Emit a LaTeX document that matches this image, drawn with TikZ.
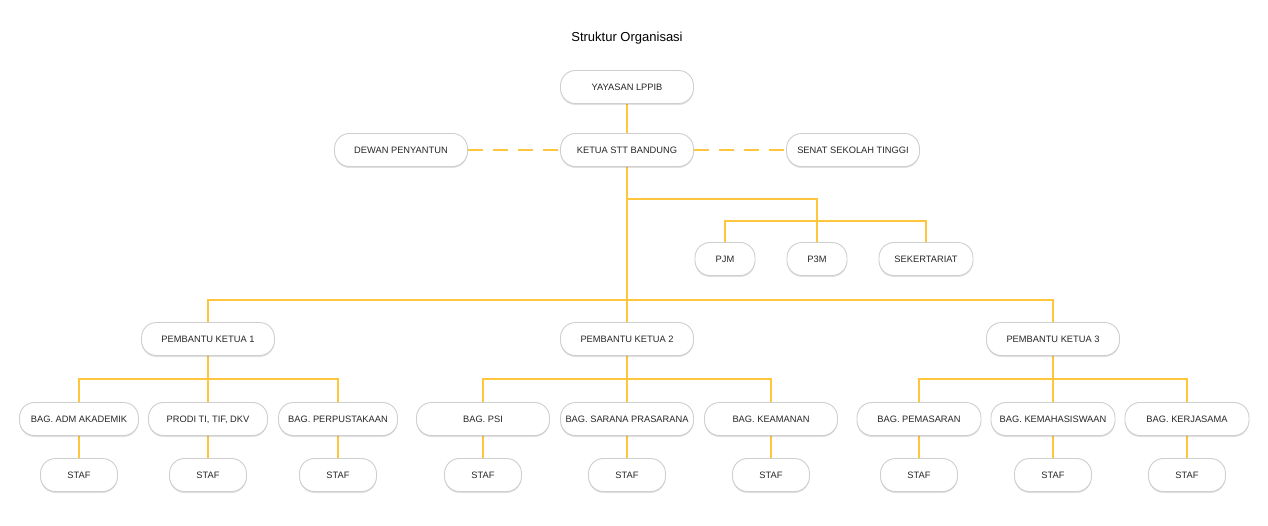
\documentclass[tikz,border=0pt]{standalone}
\usepackage{fontspec}
\setmainfont{Liberation Sans}
\usetikzlibrary{backgrounds,shadows}
\definecolor{lineyel}{HTML}{FFC53D}
\definecolor{boxline}{HTML}{CFCFCF}
\definecolor{txt}{HTML}{262626}
\tikzset{
  orgbox/.style={draw=boxline, line width=0.9pt, fill=white, rounded corners=15pt,
    minimum height=33pt, inner sep=0pt, text=txt, font=\fontsize{9.3}{11}\selectfont,
    text height=6.7pt, text depth=0pt,
    drop shadow={shadow xshift=0pt, shadow yshift=-1.5pt, opacity=0.12, fill=black}},
  wbig/.style={orgbox, minimum width=133pt},
  wmid/.style={orgbox, minimum width=119pt},
  wgr3/.style={orgbox, minimum width=124pt},
  wstaf/.style={orgbox, minimum width=77pt},
  conn/.style={draw=lineyel, line width=2.8pt},
  dconn/.style={conn, dash pattern=on 15pt off 10pt},
}
\begin{document}
\begin{tikzpicture}[x=1pt,y=-1pt]
\useasboundingbox (0,0) rectangle (1268,526);
\node[text=black, font=\fontsize{13}{15}\selectfont] (title) at (627,38) {Struktur Organisasi};
% top
\node[wbig] (yay) at (627,87) {YAYASAN LPPIB};
\node[wbig] (ket) at (627,150) {KETUA STT BANDUNG};
\node[wbig] (dew) at (401,150) {DEWAN PENYANTUN};
\node[wbig] (sen) at (853,150) {SENAT SEKOLAH TINGGI};
% staff units
\node[orgbox, minimum width=60pt] (pjm) at (725,259) {PJM};
\node[orgbox, minimum width=60pt] (p3m) at (817,259) {P3M};
\node[orgbox, minimum width=94pt] (sek) at (926,259) {SEKERTARIAT};
% pembantu
\node[wbig] (pk1) at (208,339) {PEMBANTU KETUA 1};
\node[wbig] (pk2) at (627,339) {PEMBANTU KETUA 2};
\node[wbig] (pk3) at (1053,339) {PEMBANTU KETUA 3};
% row 3
\node[wmid] (adm) at (79,419) {BAG. ADM AKADEMIK};
\node[wmid] (pro) at (208,419) {PRODI TI, TIF, DKV};
\node[wmid] (per) at (338,419) {BAG. PERPUSTAKAAN};
\node[wbig] (psi) at (483,419) {BAG. PSI};
\node[wbig] (sar) at (627,419) {BAG. SARANA PRASARANA};
\node[wbig] (kea) at (771,419) {BAG. KEAMANAN};
\node[wgr3] (pem) at (919,419) {BAG. PEMASARAN};
\node[wgr3] (kem) at (1053,419) {BAG. KEMAHASISWAAN};
\node[wgr3] (ker) at (1187,419) {BAG. KERJASAMA};
% staf
\node[wstaf] (s1) at (79,475) {STAF};
\node[wstaf] (s2) at (208,475) {STAF};
\node[wstaf] (s3) at (338,475) {STAF};
\node[wstaf] (s4) at (483,475) {STAF};
\node[wstaf] (s5) at (627,475) {STAF};
\node[wstaf] (s6) at (771,475) {STAF};
\node[wstaf] (s7) at (919,475) {STAF};
\node[wstaf] (s8) at (1053,475) {STAF};
\node[wstaf] (s9) at (1187,475) {STAF};
% junctions
\coordinate (j0) at (627,199);
\coordinate (j1) at (817,221);
\coordinate (j2) at (627,300);
\coordinate (ja) at (208,379);
\coordinate (jb) at (627,379);
\coordinate (jc) at (1053,379);
\begin{scope}[on background layer]
\fill[white] (0,0) rectangle (1268,526);
\draw[conn] (yay) -- (ket);
\draw[dconn] (dew.east) -- (ket.west);
\draw[dconn] (ket.east) -- (sen.west);
\draw[conn] (ket.south) -- (pk2.north);
\draw[conn] (j0) -| (p3m.north);
\draw[conn] (pjm.north) |- (j1) -| (sek.north);
\draw[conn] (pk1.north) |- (j2) -| (pk3.north);
\draw[conn] (pk1.south) -- (pro.north);
\draw[conn] (adm.north) |- (ja) -| (per.north);
\draw[conn] (pk2.south) -- (sar.north);
\draw[conn] (psi.north) |- (jb) -| (kea.north);
\draw[conn] (pk3.south) -- (kem.north);
\draw[conn] (pem.north) |- (jc) -| (ker.north);
\draw[conn] (adm) -- (s1);
\draw[conn] (pro) -- (s2);
\draw[conn] (per) -- (s3);
\draw[conn] (psi) -- (s4);
\draw[conn] (sar) -- (s5);
\draw[conn] (kea) -- (s6);
\draw[conn] (pem) -- (s7);
\draw[conn] (kem) -- (s8);
\draw[conn] (ker) -- (s9);
\end{scope}
\end{tikzpicture}
\end{document}
